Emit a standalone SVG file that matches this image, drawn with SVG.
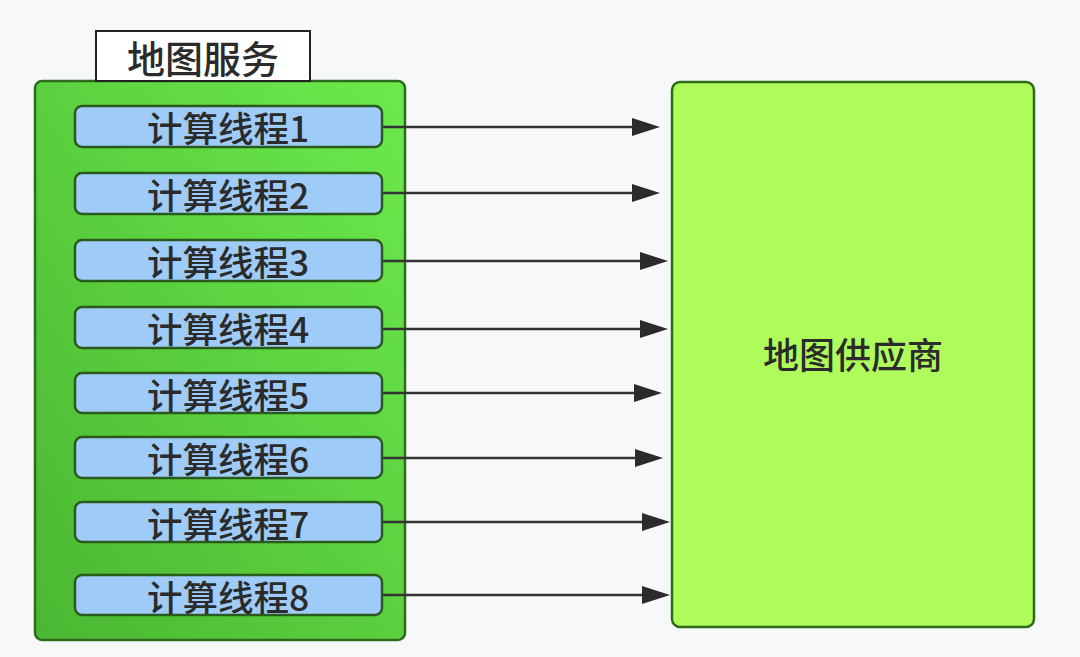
<svg xmlns="http://www.w3.org/2000/svg" width="1080" height="657" viewBox="0 0 1080 657">
<style>
.t{font-family:"Noto Sans CJK SC","Noto Sans",sans-serif;fill:#2b2b2b;text-anchor:middle}
.thread{fill:#9fcbf9;stroke:#2a5a1c;stroke-width:2.5}
.tt{font-size:35.5px;font-weight:500}
.conn{stroke:#333;stroke-width:2.5;fill:none}
</style>
<defs>
<linearGradient id="g" x1="1" y1="0" x2="0" y2="1">
<stop offset="0" stop-color="#6cea4c"/>
<stop offset="1" stop-color="#4ab732"/>
</linearGradient>
</defs>
<rect width="1080" height="657" fill="#f7f8fa"/>
<g id="container">
<rect x="35" y="81" width="370" height="559" rx="7" fill="url(#g)" stroke="#2e6b1c" stroke-width="2.5"/>
</g>
<g id="title">
<rect x="96" y="31" width="214" height="50" fill="#fff" stroke="#222" stroke-width="2"/>
<text class="t" x="203" y="73" font-size="38" font-weight="500">地图服务</text>
</g>
<g id="provider">
<rect x="672" y="82" width="362" height="545" rx="8" fill="#b0fb5c" stroke="#2e6b16" stroke-width="2.5"/>
<text class="t" x="853" y="369" font-size="36" font-weight="500">地图供应商</text>
</g>
<g id="connectors" class="conn">
<path d="M382 127H636"/><path d="M382 193H636"/><path d="M382 261H642"/><path d="M382 329H642"/>
<path d="M382 393H636"/><path d="M382 458H637"/><path d="M382 522H644"/><path d="M382 595H644"/>
<g fill="#2b2b2d" stroke="none">
<path d="M632 118L660 127L632 136Z"/><path d="M632 184L660 193L632 202Z"/>
<path d="M640 252L668 261L640 270Z"/><path d="M640 320L668 329L640 338Z"/>
<path d="M634 384L662 393L634 402Z"/><path d="M635 449L663 458L635 467Z"/>
<path d="M642 513L670 522L642 531Z"/><path d="M642 586L670 595L642 604Z"/>
</g>
</g>
<g id="thread1"><rect class="thread" x="75" y="106" width="307" height="41" rx="7"/><text class="t tt" x="228" y="142">计算线程1</text></g>
<g id="thread2"><rect class="thread" x="75" y="173" width="307" height="41" rx="7"/><text class="t tt" x="228" y="209">计算线程2</text></g>
<g id="thread3"><rect class="thread" x="75" y="240" width="307" height="41" rx="7"/><text class="t tt" x="228" y="276">计算线程3</text></g>
<g id="thread4"><rect class="thread" x="75" y="307" width="307" height="41" rx="7"/><text class="t tt" x="228" y="343">计算线程4</text></g>
<g id="thread5"><rect class="thread" x="75" y="373" width="307" height="40" rx="7"/><text class="t tt" x="228" y="409">计算线程5</text></g>
<g id="thread6"><rect class="thread" x="75" y="437" width="307" height="41" rx="7"/><text class="t tt" x="228" y="473">计算线程6</text></g>
<g id="thread7"><rect class="thread" x="75" y="502" width="307" height="40" rx="7"/><text class="t tt" x="228" y="538">计算线程7</text></g>
<g id="thread8"><rect class="thread" x="75" y="575" width="307" height="40" rx="7"/><text class="t tt" x="228" y="611">计算线程8</text></g>
</svg>
